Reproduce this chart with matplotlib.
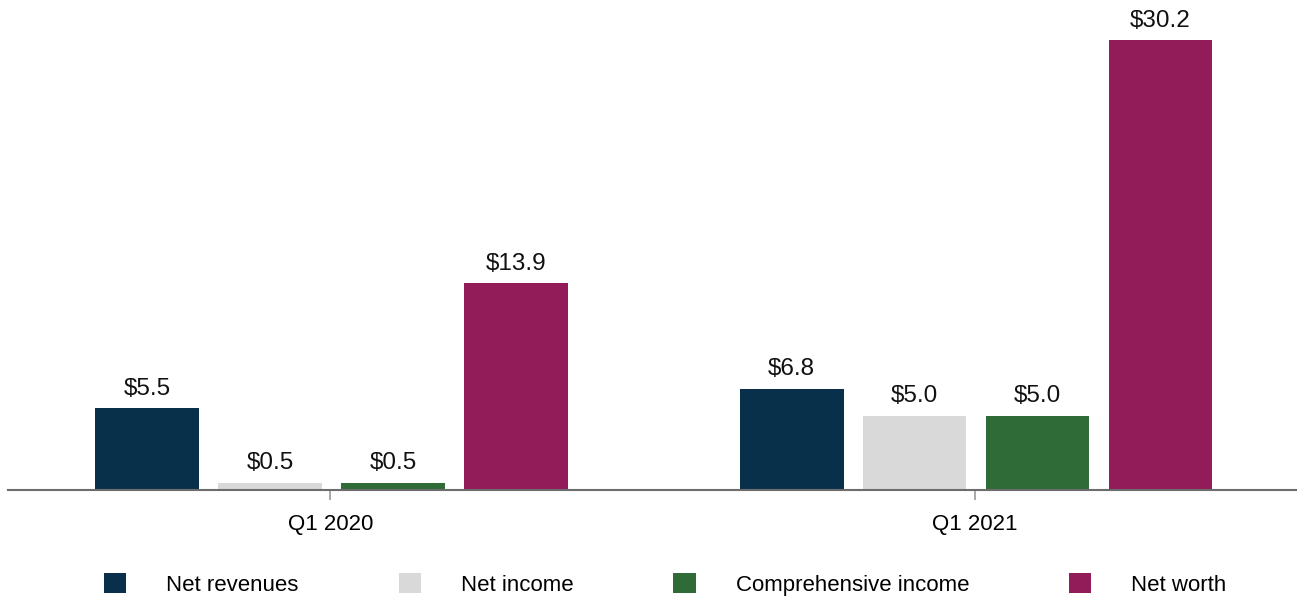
import numpy as np
import matplotlib.pyplot as plt
from matplotlib.patches import Patch

plt.rcParams['font.family'] = ['Liberation Sans', 'DejaVu Sans']

quarters = ['Q1 2020', 'Q1 2021']
series = ['Net revenues', 'Net income', 'Comprehensive income', 'Net worth']
values = {
    'Net revenues': [5.5, 6.8],
    'Net income': [0.5, 5.0],
    'Comprehensive income': [0.5, 5.0],
    'Net worth': [13.9, 30.2],
}
colors = ['#08304B', '#D9D9D9', '#2E6B37', '#921B5A']

fig = plt.figure(figsize=(12.97, 5.96), dpi=100)
ax = fig.add_axes([8 / 1297, 1 - 490 / 596, 1 - 8 / 1297, 490 / 596])

x = np.arange(len(quarters))
step = 0.1907
width = 0.161
for i, (name, col) in enumerate(zip(series, colors)):
    pos = x + (i - 1.5) * step + 0.002
    vals = values[name]
    ax.bar(pos, vals, width, color=col)
    for p, v in zip(pos, vals):
        ax.annotate(f'${v:.1f}', (p, v), xytext=(0, 6), textcoords='offset points',
                    ha='center', va='bottom', fontsize=17.5, color='#111111')

ax.set_xlim(-0.5, 1.5)
ax.set_ylim(0, 32.9)
ax.set_xticks(x)
ax.set_xticklabels(quarters, fontsize=16)
ax.tick_params(axis='x', length=7, width=1.2, color='#9a9a9a', pad=10)
ax.set_yticks([])
for s in ['top', 'right', 'left']:
    ax.spines[s].set_visible(False)
ax.spines['bottom'].set_color('#6d6d6d')
ax.spines['bottom'].set_linewidth(1.5)

handles = [Patch(facecolor=c, label=n) for n, c in zip(series, colors)]
fig.legend(handles=handles, loc='center', bbox_to_anchor=(0.513, 0.019), ncol=4,
           frameon=False, fontsize=16, handlelength=1.0, handleheight=1.0,
           handletextpad=1.8, columnspacing=4.5)

fig.savefig('out.png', dpi=100)
